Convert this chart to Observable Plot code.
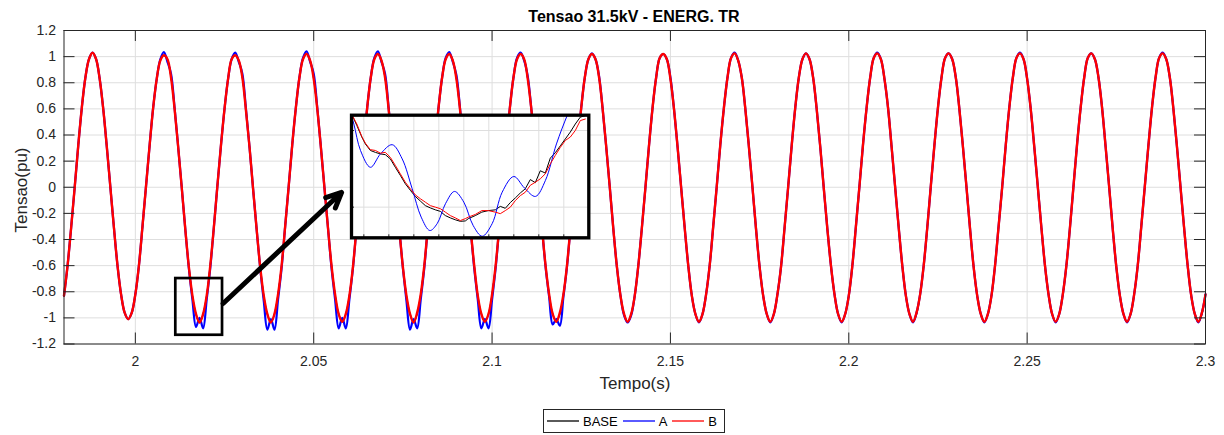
<!DOCTYPE html>
<html><head><meta charset="utf-8">
<script src="https://cdn.jsdelivr.net/npm/d3@7"></script>
<script src="https://cdn.jsdelivr.net/npm/@observablehq/plot@0.6"></script>
<style>
html,body{margin:0;padding:0;background:#fff;}
#wrap{position:relative;width:1224px;height:435px;font-family:"Liberation Sans",Arial,Helvetica,sans-serif;color:#262626;overflow:hidden;}
#wrap > *{position:absolute;}
.lbl{white-space:nowrap;line-height:1;}
</style></head><body><div id="wrap"></div>
<script>
// ---------- chart text ----------
const titleText = "Tensao 31.5kV - ENERG. TR";
const xLabelText = "Tempo(s)";
const yLabelText = "Tensao(pu)";

// ---------- series ----------
const seriesNames = ["BASE", "A", "B"];
const seriesColors = ["#000000", "#0000ff", "#ff0000"];

// axes
const xDomain = [1.98, 2.3];
const yDomain = [-1.2, 1.2];
const xTicks = [2, 2.05, 2.1, 2.15, 2.2, 2.25, 2.3];
const xTickLabels = ["2", "2.05", "2.1", "2.15", "2.2", "2.25", "2.3"];
const yTicks = [-1.2, -1, -0.8, -0.6, -0.4, -0.2, 0, 0.2, 0.4, 0.6, 0.8, 1, 1.2];
const yTickLabels = ["-1.2", "-1", "-0.8", "-0.6", "-0.4", "-0.2", "0", "0.2", "0.4", "0.6", "0.8", "1", "1.2"];

// sampled waveform: one sample per millisecond from 1.980 s to 2.300 s
const sampleStart = 1.98, sampleStep = 0.001;

const valuesBase = [
-0.83,-0.60,-0.31,0.00,0.32,0.61,0.84,0.98,1.03,0.98,0.83,0.60,0.31,0.00,-0.31,-0.60,-0.82,-0.96,-1.01,-0.96,
-0.82,-0.60,-0.31,0.01,0.32,0.61,0.83,0.97,1.01,0.98,0.84,0.60,0.31,0.00,-0.32,-0.61,-0.83,-0.97,-1.037,-0.97,
-0.83,-0.60,-0.31,0.01,0.32,0.60,0.83,0.98,1.01,0.97,0.84,0.60,0.31,-0.01,-0.32,-0.61,-0.83,-0.97,-1.035,-0.97,
-0.82,-0.60,-0.30,0.01,0.33,0.61,0.84,0.98,1.02,0.97,0.83,0.60,0.31,0.00,-0.31,-0.60,-0.82,-0.97,-1.03,-0.97,
-0.83,-0.61,-0.31,0.00,0.32,0.61,0.84,0.98,1.02,0.97,0.84,0.60,0.31,0.00,-0.32,-0.61,-0.83,-0.97,-1.035,-0.97,
-0.82,-0.60,-0.30,0.01,0.32,0.61,0.84,0.98,1.02,0.97,0.83,0.60,0.31,0.00,-0.32,-0.60,-0.83,-0.97,-1.03,-0.97,
-0.82,-0.60,-0.31,0.01,0.33,0.61,0.84,0.98,1.02,0.98,0.83,0.60,0.31,0.00,-0.31,-0.60,-0.82,-0.97,-1.03,-0.97,
-0.82,-0.60,-0.30,0.01,0.33,0.61,0.84,0.98,1.02,0.98,0.84,0.60,0.31,0.00,-0.32,-0.61,-0.83,-0.97,-1.03,-0.97,
-0.83,-0.60,-0.31,0.00,0.32,0.61,0.84,0.99,1.02,0.98,0.83,0.60,0.31,0.00,-0.31,-0.60,-0.83,-0.97,-1.03,-0.97,
-0.82,-0.60,-0.30,0.01,0.33,0.61,0.84,0.99,1.025,0.97,0.84,0.60,0.31,0.00,-0.32,-0.61,-0.83,-0.97,-1.03,-0.97,
-0.82,-0.61,-0.31,0.00,0.32,0.61,0.84,0.98,1.025,0.98,0.84,0.60,0.31,-0.01,-0.32,-0.60,-0.82,-0.97,-1.03,-0.97,
-0.83,-0.60,-0.30,0.01,0.33,0.61,0.84,0.99,1.025,0.98,0.83,0.61,0.31,0.00,-0.31,-0.60,-0.83,-0.97,-1.03,-0.97,
-0.82,-0.60,-0.31,0.01,0.32,0.61,0.84,0.99,1.025,0.98,0.84,0.60,0.31,0.00,-0.32,-0.61,-0.83,-0.97,-1.03,-0.97,
-0.83,-0.60,-0.30,0.00,0.32,0.61,0.84,0.99,1.025,0.98,0.83,0.60,0.31,0.00,-0.31,-0.60,-0.82,-0.97,-1.03,-0.97,
-0.82,-0.60,-0.31,0.01,0.33,0.61,0.84,0.99,1.025,0.98,0.84,0.61,0.31,0.00,-0.32,-0.61,-0.83,-0.97,-1.03,-0.97,
-0.82,-0.60,-0.30,0.01,0.32,0.61,0.84,0.99,1.025,0.98,0.84,0.60,0.31,0.00,-0.31,-0.60,-0.83,-0.97,-1.03,-0.97,
-0.82];

const valuesA = [
-0.83,-0.60,-0.31,0.00,0.32,0.61,0.84,0.98,1.03,0.98,0.83,0.60,0.31,0.00,-0.31,-0.60,-0.82,-0.96,-1.01,-0.96,
-0.82,-0.60,-0.30,0.01,0.32,0.61,0.83,0.98,1.035,0.96,0.87,0.61,0.31,0.00,-0.32,-0.62,-0.86,-1.07,-1.00,-1.08,
-0.86,-0.62,-0.31,0.01,0.32,0.60,0.83,0.98,1.03,0.96,0.87,0.60,0.31,-0.01,-0.32,-0.62,-0.87,-1.09,-1.01,-1.09,
-0.86,-0.62,-0.30,0.01,0.33,0.61,0.84,0.99,1.04,0.96,0.87,0.61,0.31,0.00,-0.31,-0.62,-0.86,-1.08,-1.00,-1.08,
-0.86,-0.62,-0.31,0.00,0.32,0.61,0.84,0.99,1.04,0.96,0.87,0.61,0.31,0.00,-0.32,-0.62,-0.87,-1.09,-1.01,-1.08,
-0.86,-0.62,-0.30,0.01,0.32,0.61,0.84,0.99,1.035,0.96,0.86,0.61,0.30,0.00,-0.32,-0.62,-0.86,-1.08,-1.01,-1.08,
-0.86,-0.62,-0.31,0.01,0.33,0.61,0.84,0.99,1.03,0.97,0.85,0.60,0.31,0.00,-0.31,-0.61,-0.84,-1.05,-1.01,-1.06,
-0.84,-0.61,-0.30,0.01,0.33,0.61,0.84,0.98,1.025,0.98,0.85,0.60,0.31,0.00,-0.32,-0.61,-0.83,-0.98,-1.035,-0.98,
-0.83,-0.60,-0.31,0.00,0.32,0.61,0.84,0.99,1.02,0.98,0.84,0.60,0.31,0.00,-0.31,-0.60,-0.83,-0.97,-1.035,-0.97,
-0.82,-0.60,-0.30,0.01,0.33,0.61,0.84,0.99,1.03,0.97,0.84,0.60,0.31,0.00,-0.32,-0.61,-0.83,-0.97,-1.035,-0.97,
-0.82,-0.61,-0.31,0.00,0.32,0.61,0.84,0.98,1.025,0.98,0.84,0.60,0.31,-0.01,-0.32,-0.60,-0.82,-0.97,-1.035,-0.97,
-0.83,-0.60,-0.30,0.01,0.33,0.61,0.84,0.99,1.03,0.98,0.83,0.61,0.31,0.00,-0.31,-0.60,-0.83,-0.97,-1.035,-0.96,
-0.82,-0.60,-0.31,0.01,0.32,0.61,0.84,0.99,1.025,0.98,0.84,0.60,0.31,0.00,-0.32,-0.61,-0.83,-0.97,-1.035,-0.97,
-0.83,-0.60,-0.30,0.00,0.32,0.61,0.84,0.99,1.03,0.98,0.83,0.60,0.31,0.00,-0.31,-0.60,-0.82,-0.97,-1.035,-0.97,
-0.82,-0.60,-0.31,0.01,0.33,0.61,0.84,0.99,1.025,0.98,0.84,0.61,0.31,0.00,-0.32,-0.61,-0.83,-0.97,-1.035,-0.97,
-0.82,-0.60,-0.30,0.01,0.32,0.61,0.84,0.99,1.03,0.98,0.84,0.60,0.31,0.00,-0.31,-0.60,-0.83,-0.97,-1.035,-0.96,
-0.82];

const valuesB = [
-0.83,-0.60,-0.31,0.00,0.32,0.61,0.84,0.98,1.03,0.98,0.83,0.60,0.31,0.00,-0.31,-0.60,-0.82,-0.96,-1.01,-0.96,
-0.82,-0.60,-0.30,0.01,0.32,0.61,0.83,0.97,1.01,0.98,0.84,0.60,0.31,0.00,-0.32,-0.61,-0.83,-0.97,-1.035,-0.97,
-0.83,-0.60,-0.31,0.01,0.32,0.60,0.83,0.98,1.01,0.97,0.84,0.59,0.31,-0.01,-0.32,-0.61,-0.83,-0.97,-1.035,-0.97,
-0.82,-0.60,-0.30,0.01,0.33,0.61,0.84,0.98,1.02,0.97,0.83,0.60,0.31,0.00,-0.31,-0.60,-0.82,-0.97,-1.03,-0.97,
-0.83,-0.61,-0.31,0.00,0.32,0.61,0.84,0.98,1.02,0.97,0.84,0.60,0.31,0.00,-0.32,-0.61,-0.83,-0.97,-1.035,-0.96,
-0.82,-0.60,-0.30,0.01,0.32,0.61,0.84,0.98,1.02,0.97,0.83,0.60,0.30,0.00,-0.32,-0.60,-0.83,-0.97,-1.03,-0.97,
-0.82,-0.60,-0.31,0.01,0.33,0.61,0.84,0.98,1.02,0.98,0.83,0.60,0.31,0.00,-0.31,-0.60,-0.82,-0.97,-1.03,-0.96,
-0.82,-0.60,-0.30,0.01,0.33,0.61,0.84,0.98,1.02,0.98,0.84,0.60,0.31,0.00,-0.32,-0.61,-0.83,-0.97,-1.03,-0.97,
-0.83,-0.60,-0.31,0.00,0.32,0.61,0.84,0.99,1.02,0.98,0.83,0.60,0.31,0.00,-0.31,-0.60,-0.83,-0.97,-1.03,-0.97,
-0.82,-0.60,-0.30,0.01,0.33,0.61,0.84,0.99,1.025,0.97,0.84,0.60,0.31,0.00,-0.32,-0.61,-0.83,-0.97,-1.03,-0.97,
-0.82,-0.61,-0.31,0.00,0.32,0.61,0.84,0.98,1.025,0.98,0.84,0.60,0.31,-0.01,-0.32,-0.60,-0.82,-0.97,-1.03,-0.97,
-0.83,-0.60,-0.30,0.01,0.33,0.61,0.84,0.99,1.025,0.98,0.83,0.61,0.31,0.00,-0.31,-0.60,-0.83,-0.97,-1.03,-0.96,
-0.82,-0.60,-0.31,0.01,0.32,0.61,0.84,0.99,1.025,0.98,0.84,0.60,0.31,0.00,-0.32,-0.61,-0.83,-0.97,-1.03,-0.97,
-0.83,-0.60,-0.30,0.00,0.32,0.61,0.84,0.99,1.025,0.98,0.83,0.60,0.31,0.00,-0.31,-0.60,-0.82,-0.97,-1.03,-0.97,
-0.82,-0.60,-0.31,0.01,0.33,0.61,0.84,0.99,1.025,0.98,0.84,0.61,0.31,0.00,-0.32,-0.61,-0.83,-0.97,-1.03,-0.97,
-0.82,-0.60,-0.30,0.01,0.32,0.61,0.84,0.99,1.025,0.98,0.84,0.60,0.31,0.00,-0.31,-0.60,-0.83,-0.97,-1.03,-0.96,
-0.82];

// zoom annotation (data units)
const zoomBoxT = [2.01134, 2.02444];
const zoomBoxV = [-1.133, -0.699];
const arrowFrom = [2.0246, -0.89];
const arrowTo = [2.0578, -0.04];

// ---------- inset (zoom of the trough near 2.018 s) ----------
const insetXDomain = [2.015753, 2.0205];
const insetYDomain = [-1.08, -0.76];
const insetXTicks = [2.016, 2.0165, 2.017, 2.0175, 2.018, 2.0185, 2.019, 2.0195, 2.02];
const insetYTicks = [-1.0, -0.8];

const insetT = [2.01577,2.01586,2.01596,2.01603,2.01613,2.01623,2.01633,2.01643,2.01653,2.01663,2.01673,2.01683,2.01693,2.01703,2.01713,2.01723,2.01733,2.01743,2.01753,2.01763,2.01773,2.01783,2.01793,2.01803,2.01809,2.01823,2.01836,2.01849,2.01863,2.01873,2.01883,2.01893,2.01903,2.01913,2.01923,2.01933,2.01943,2.01953,2.01963,2.01973,2.01983,2.01993,2.02003,2.02013,2.02023,2.02033,2.02043];
const insetBase = [-0.761,-0.787,-0.817,-0.835,-0.852,-0.857,-0.861,-0.863,-0.874,-0.896,-0.917,-0.939,-0.956,-0.972,-0.984,-0.996,-1.002,-1.007,-1.011,-1.022,-1.028,-1.033,-1.037,-1.036,-1.030,-1.022,-1.013,-1.009,-1.007,-0.998,-1.003,-0.988,-0.976,-0.963,-0.952,-0.928,-0.936,-0.905,-0.911,-0.872,-0.858,-0.840,-0.822,-0.804,-0.783,-0.765,-0.761];
const insetB = [-0.761,-0.783,-0.816,-0.833,-0.850,-0.852,-0.859,-0.857,-0.870,-0.891,-0.913,-0.935,-0.952,-0.968,-0.978,-0.987,-0.996,-1.000,-1.004,-1.013,-1.022,-1.028,-1.035,-1.030,-1.026,-1.019,-1.009,-1.009,-1.013,-1.017,-1.009,-1.000,-0.983,-0.970,-0.961,-0.943,-0.935,-0.926,-0.913,-0.887,-0.865,-0.844,-0.826,-0.817,-0.800,-0.774,-0.770];
const insetAT = [2.015667,2.0158,2.015933,2.016133,2.016333,2.016567,2.016767,2.016967,2.017147,2.01732,2.017467,2.017633,2.017813,2.018,2.018187,2.018367,2.018567,2.018767,2.019,2.019213,2.019433,2.019633,2.019853,2.020067,2.0202];
const insetA = [-0.722,-0.783,-0.852,-0.896,-0.861,-0.837,-0.874,-0.952,-1.026,-1.061,-1.043,-0.991,-0.959,-0.987,-1.048,-1.076,-1.043,-0.961,-0.920,-0.950,-0.972,-0.930,-0.835,-0.761,-0.722];

// ---------- build ----------
const FONT = '"Liberation Sans", Arial, Helvetica, sans-serif';
const AX = "#262626", GRID = "#dedede";
const wrap = document.getElementById("wrap");

const n = Math.min(valuesBase.length, valuesA.length, valuesB.length);
const rows = d3.range(n).map(i => ({t: sampleStart + i * sampleStep, base: valuesBase[i], a: valuesA[i], b: valuesB[i]}));

const tickPxX = 11, tickPxY = 11;
const plotH = 343.5 - 30, plotW = 1205 - 63.5;
const tickLenV = tickPxX * (yDomain[1] - yDomain[0]) / plotH;
const tickLenT = tickPxY * (xDomain[1] - xDomain[0]) / plotW;

const main = Plot.plot({
  width: 1224, height: 435,
  marginLeft: 63.5, marginRight: 19, marginTop: 30, marginBottom: 91.5,
  x: {domain: xDomain},
  y: {domain: yDomain},
  style: {background: "transparent", fontFamily: FONT, fontSize: "14px", color: AX, overflow: "visible"},
  marks: [
    Plot.gridX(xTicks, {stroke: GRID, strokeOpacity: 1}),
    Plot.gridY(yTicks, {stroke: GRID, strokeOpacity: 1}),
    Plot.line(rows, {x: "t", y: "base", stroke: seriesColors[0], strokeWidth: 1.3, curve: "catmull-rom"}),
    Plot.line(rows, {x: "t", y: "a", stroke: seriesColors[1], strokeWidth: 2.2, curve: "catmull-rom"}),
    Plot.line(rows, {x: "t", y: "b", stroke: seriesColors[2], strokeWidth: 2.4, curve: "catmull-rom"}),
    Plot.rect([0], {x1: () => zoomBoxT[0], x2: () => zoomBoxT[1], y1: () => zoomBoxV[0], y2: () => zoomBoxV[1], fill: "none", stroke: "black", strokeWidth: 2.7}),
    Plot.arrow([0], {x1: () => arrowFrom[0], y1: () => arrowFrom[1], x2: () => arrowTo[0], y2: () => arrowTo[1], stroke: "black", strokeWidth: 5, headLength: 5, headAngle: 50}),
    Plot.frame({stroke: AX, strokeWidth: 1}),
    Plot.ruleX(xTicks, {y1: yDomain[0], y2: yDomain[0] + tickLenV, stroke: AX}),
    Plot.ruleX(xTicks, {y1: yDomain[1], y2: yDomain[1] - tickLenV, stroke: AX}),
    Plot.ruleY(yTicks, {x1: xDomain[0], x2: xDomain[0] + tickLenT, stroke: AX}),
    Plot.ruleY(yTicks, {x1: xDomain[1], x2: xDomain[1] - tickLenT, stroke: AX}),
    Plot.axisX(xTicks, {tickSize: 0, tickPadding: 12.5, tickFormat: d => xTickLabels[xTicks.indexOf(d)], label: null, fontSize: 14, fill: AX}),
    Plot.axisY(yTicks, {tickSize: 0, tickPadding: 8, tickFormat: d => yTickLabels[yTicks.indexOf(d)], label: null, fontSize: 14, fill: AX})
  ]
});
main.style.left = "0px"; main.style.top = "0px";
wrap.appendChild(main);

// inset
const insetRowsBR = insetT.map((t, i) => ({t, base: insetBase[i], b: insetB[i]}));
const insetRowsA = insetAT.map((t, i) => ({t, a: insetA[i]}));
const iW = 245, iH = 130, iML = 4, iMR = 3.7, iMT = 3.7, iMB = 3.7;
const iTickV = 3 * (insetYDomain[1] - insetYDomain[0]) / (iH - iMT - iMB);
const iTickT = 3 * (insetXDomain[1] - insetXDomain[0]) / (iW - iML - iMR);
const inset = Plot.plot({
  width: iW, height: iH, marginLeft: iML, marginRight: iMR, marginTop: iMT, marginBottom: iMB,
  x: {domain: insetXDomain, axis: null},
  y: {domain: insetYDomain, axis: null},
  style: {background: "transparent", overflow: "visible"},
  marks: [
    Plot.frame({fill: "white"}),
    Plot.gridX(insetXTicks, {stroke: GRID, strokeOpacity: 1}),
    Plot.gridY(insetYTicks, {stroke: GRID, strokeOpacity: 1}),
    Plot.ruleX(insetXTicks, {y1: insetYDomain[0], y2: insetYDomain[0] + iTickV, stroke: AX}),
    Plot.ruleY(insetYTicks, {x1: insetXDomain[0], x2: insetXDomain[0] + iTickT, stroke: AX}),
    Plot.line(insetRowsBR, {x: "t", y: "base", stroke: seriesColors[0], strokeWidth: 1, clip: true}),
    Plot.line(insetRowsA, {x: "t", y: "a", stroke: seriesColors[1], strokeWidth: 1, curve: "catmull-rom", clip: true}),
    Plot.line(insetRowsBR, {x: "t", y: "b", stroke: seriesColors[2], strokeWidth: 1, clip: true}),
    Plot.frame({stroke: "black", strokeWidth: 3.3})
  ]
});
inset.style.left = "347px"; inset.style.top = "111px";
wrap.appendChild(inset);

// title & axis labels
function addLabel(text, css) {
  const d = document.createElement("div");
  d.className = "lbl";
  d.textContent = text;
  Object.assign(d.style, css);
  wrap.appendChild(d);
  return d;
}
addLabel(titleText, {left: "634px", top: "9px", transform: "translateX(-50%)", fontWeight: "bold", fontSize: "16px", color: "#000"});
addLabel(xLabelText, {left: "635px", top: "375px", transform: "translateX(-50%)", fontSize: "17px", color: AX});
addLabel(yLabelText, {left: "21px", top: "190px", transform: "translate(-50%,-50%) rotate(-90deg)", fontSize: "17px", color: AX});

// legend
const leg = document.createElement("div");
Object.assign(leg.style, {left: "543px", top: "409px", height: "22px", border: "1px solid " + AX, background: "#fff",
  display: "flex", alignItems: "center", paddingLeft: "3px", paddingRight: "2px", fontSize: "13px", color: "#000", whiteSpace: "nowrap"});
seriesNames.forEach((name, i) => {
  const svg = d3.create("svg").attr("width", 32).attr("height", 10).style("display", "block");
  svg.append("line").attr("x1", 0).attr("x2", 32).attr("y1", 5).attr("y2", 5).attr("stroke", seriesColors[i]).attr("stroke-width", 1.3);
  leg.appendChild(svg.node());
  const s = document.createElement("span");
  s.textContent = name;
  s.style.margin = "0 5px 0 4px";
  s.style.lineHeight = "1";
  leg.appendChild(s);
});
wrap.appendChild(leg);
</script></body></html>
